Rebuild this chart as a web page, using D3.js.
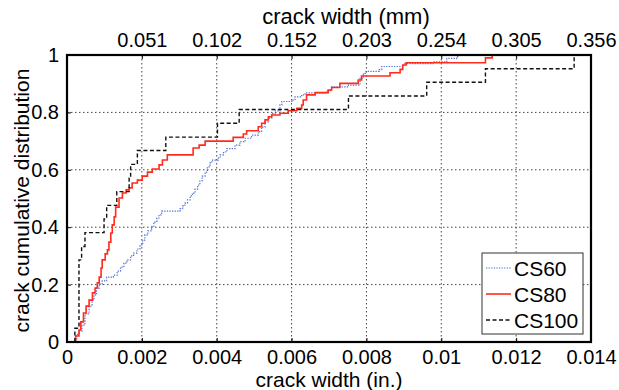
<!DOCTYPE html>
<html>
<head>
<meta charset="utf-8">
<script src="https://cdn.jsdelivr.net/npm/d3@7"></script>
<style>
  html, body { margin: 0; padding: 0; background: #fff; }
  svg { display: block; font-family: "Liberation Sans", Arial, sans-serif; }
</style>
</head>
<body>
<svg id="chart" width="619" height="390"></svg>
<script>
// ---- axis ticks -------------------------------------------------------
const xTicksIn = [0, 0.002, 0.004, 0.006, 0.008, 0.010, 0.012, 0.014];
const xTickLabelsIn = ["0", "0.002", "0.004", "0.006", "0.008", "0.01", "0.012", "0.014"];
const xTicksMm = [0.002, 0.004, 0.006, 0.008, 0.010, 0.012, 0.014];
const xTickLabelsMm = ["0.051", "0.102", "0.152", "0.203", "0.254", "0.305", "0.356"];
const yTicks = [0, 0.2, 0.4, 0.6, 0.8, 1];
const yTickLabels = ["0", "0.2", "0.4", "0.6", "0.8", "1"];

// ---- empirical crack-width distributions (width in inches, cumulative fraction) ----
const seriesNames = ["CS60", "CS80", "CS100"];

const cs60Width = [0.00026, 0.00026, 0.00028, 0.00032, 0.00040, 0.00048, 0.00059, 0.00067, 0.00072, 0.00079,
  0.00086, 0.00094, 0.00106, 0.00124, 0.00134, 0.00143, 0.00152, 0.00160, 0.00170, 0.00178,
  0.00187, 0.00195, 0.00202, 0.00208, 0.00216, 0.00226, 0.00232, 0.00240, 0.00246, 0.00253,
  0.00302, 0.00309, 0.00315, 0.00322, 0.00329, 0.00335, 0.00342, 0.00349, 0.00355, 0.00361,
  0.00369, 0.00375, 0.00382, 0.00387, 0.00404, 0.00409, 0.00418, 0.00427, 0.00449, 0.00462,
  0.00476, 0.00493, 0.00511, 0.00520, 0.00529, 0.00538, 0.00547, 0.00556, 0.00569, 0.00574,
  0.00601, 0.00609, 0.00627, 0.00636, 0.00694, 0.00707, 0.00752, 0.00783, 0.00792, 0.00799,
  0.00834, 0.00841, 0.00900, 0.00978, 0.01015, 0.01041, 0.01046];
const cs60Cdf = [0, 0.021, 0.030, 0.038, 0.059, 0.098, 0.125, 0.146, 0.164, 0.188,
  0.202, 0.213, 0.226, 0.233, 0.247, 0.261, 0.275, 0.286, 0.300, 0.310,
  0.324, 0.338, 0.355, 0.373, 0.387, 0.401, 0.418, 0.432, 0.443, 0.456,
  0.465, 0.474, 0.484, 0.495, 0.509, 0.519, 0.533, 0.547, 0.561, 0.578,
  0.592, 0.610, 0.624, 0.634, 0.641, 0.652, 0.662, 0.674, 0.686, 0.698,
  0.710, 0.721, 0.733, 0.749, 0.767, 0.780, 0.796, 0.805, 0.826, 0.838,
  0.843, 0.854, 0.861, 0.868, 0.876, 0.889, 0.895, 0.919, 0.936, 0.943,
  0.949, 0.960, 0.970, 0.976, 0.988, 0.994, 1.000];

const cs80Width = [0.00023, 0.00023, 0.00032, 0.00037, 0.00044, 0.00051, 0.00059, 0.00068, 0.00075, 0.00081,
  0.00086, 0.00091, 0.00094, 0.00102, 0.00108, 0.00112, 0.00117, 0.00121, 0.00126, 0.00130,
  0.00139, 0.00148, 0.00158, 0.00166, 0.00174, 0.00188, 0.00201, 0.00215, 0.00228, 0.00246,
  0.00255, 0.00268, 0.00337, 0.00353, 0.00369, 0.00444, 0.00471, 0.00480, 0.00511, 0.00520,
  0.00529, 0.00538, 0.00547, 0.00569, 0.00591, 0.00614, 0.00627, 0.00631, 0.00640, 0.00663,
  0.00698, 0.00707, 0.00729, 0.00778, 0.00787, 0.00863, 0.00890, 0.00897, 0.00906, 0.01118,
  0.01136];
const cs80Cdf = [0, 0.021, 0.042, 0.070, 0.101, 0.125, 0.146, 0.171, 0.188, 0.206,
  0.226, 0.258, 0.286, 0.307, 0.321, 0.348, 0.380, 0.408, 0.436, 0.470,
  0.502, 0.519, 0.530, 0.537, 0.554, 0.564, 0.578, 0.592, 0.603, 0.617,
  0.634, 0.652, 0.676, 0.686, 0.700, 0.713, 0.725, 0.736, 0.750, 0.762,
  0.774, 0.785, 0.791, 0.797, 0.806, 0.814, 0.826, 0.843, 0.861, 0.869,
  0.878, 0.887, 0.901, 0.913, 0.927, 0.938, 0.950, 0.965, 0.973, 0.990,
  1.000];

const cs100Width = [0.00021, 0.00021, 0.00032, 0.00039, 0.00048, 0.00099, 0.00106, 0.00133, 0.00166, 0.00170,
  0.00188, 0.00264, 0.00402, 0.00460, 0.00752, 0.00961, 0.01118, 0.01355];
const cs100Cdf = [0, 0.048, 0.286, 0.333, 0.381, 0.429, 0.476, 0.524, 0.571, 0.619,
  0.667, 0.714, 0.762, 0.810, 0.857, 0.905, 0.952, 1.000];

const seriesWidths = [cs60Width, cs80Width, cs100Width];
const seriesCdfs = [cs60Cdf, cs80Cdf, cs100Cdf];

// ---- layout ----------------------------------------------------------
const svg = d3.select("#chart");
const plot = { left: 67, right: 591, top: 55, bottom: 342 };

const x = d3.scaleLinear().domain([0, 0.014]).range([plot.left, plot.right]);
const y = d3.scaleLinear().domain([0, 1]).range([plot.bottom, plot.top]);

const styles = {
  CS60:  { stroke: "#4f6fd6", width: 1.2, dash: "1.3,1.3" },
  CS80:  { stroke: "#ff2b1c", width: 1.6, dash: null },
  CS100: { stroke: "#111111", width: 1.4, dash: "4,2.5" }
};

// grid
const grid = svg.append("g").attr("stroke", "#444").attr("stroke-width", 1)
  .attr("stroke-dasharray", "1.5,2.5");
xTicksIn.filter(t => t > 0 && t < 0.014).forEach(t => {
  grid.append("line").attr("x1", x(t)).attr("x2", x(t))
    .attr("y1", plot.top).attr("y2", plot.bottom);
});
yTicks.filter(t => t > 0 && t < 1).forEach(t => {
  grid.append("line").attr("x1", plot.left).attr("x2", plot.right)
    .attr("y1", y(t)).attr("y2", y(t));
});

// axes (inward ticks, labels from the tick arrays)
const fontSize = 20;
const axBottom = d3.axisBottom(x).tickValues(xTicksIn)
  .tickFormat((d, i) => xTickLabelsIn[i]).tickSizeInner(-4).tickSizeOuter(0).tickPadding(8);
const axTop = d3.axisTop(x).tickValues(xTicksMm)
  .tickFormat((d, i) => xTickLabelsMm[i]).tickSizeInner(-4).tickSizeOuter(0).tickPadding(8);
const axLeft = d3.axisLeft(y).tickValues(yTicks)
  .tickFormat((d, i) => yTickLabels[i]).tickSizeInner(-4).tickSizeOuter(0).tickPadding(8);

function styleAxis(g) {
  g.select(".domain").remove();
  g.selectAll(".tick line").attr("stroke", "#000").attr("stroke-width", 1);
  g.selectAll(".tick text").attr("fill", "#000")
    .style("font-size", fontSize + "px")
    .style("font-family", "'Liberation Sans', Arial, sans-serif");
}
svg.append("g").attr("transform", `translate(0,${plot.bottom})`).call(axBottom).call(styleAxis);
svg.append("g").attr("transform", `translate(0,${plot.top})`).call(axTop).call(styleAxis);
svg.append("g").attr("transform", `translate(${plot.left},0)`).call(axLeft).call(styleAxis);

// series as empirical-CDF stairs
const line = d3.line().curve(d3.curveStepAfter);
seriesNames.forEach((name, k) => {
  const pts = seriesWidths[k].map((w, i) => [x(w), y(seriesCdfs[k][i])]);
  const st = styles[name];
  svg.append("path").attr("d", line(pts))
    .attr("fill", "none").attr("stroke", st.stroke)
    .attr("stroke-width", st.width)
    .attr("stroke-dasharray", st.dash);
});

// frame
svg.append("rect")
  .attr("x", plot.left).attr("y", plot.top)
  .attr("width", plot.right - plot.left).attr("height", plot.bottom - plot.top)
  .attr("fill", "none").attr("stroke", "#000").attr("stroke-width", 2.2);

// titles
const labelSize = 21;
svg.append("text").attr("x", 346).attr("y", 24)
  .attr("text-anchor", "middle").style("font-size", "22px")
  .text("crack width (mm)");
svg.append("text").attr("x", (plot.left + plot.right) / 2).attr("y", 387)
  .attr("text-anchor", "middle").style("font-size", labelSize + "px")
  .text("crack width (in.)");
svg.append("text")
  .attr("transform", `translate(29,${(plot.top + plot.bottom) / 2 + 2}) rotate(-90)`)
  .attr("text-anchor", "middle").style("font-size", labelSize + "px")
  .text("crack cumulative distribution");

// legend
const legend = svg.append("g").attr("transform", "translate(482,253)");
legend.append("rect").attr("width", 101).attr("height", 81)
  .attr("fill", "#fff").attr("stroke", "#333").attr("stroke-width", 1);
seriesNames.forEach((name, k) => {
  const st = styles[name];
  const ly = 15 + k * 26;
  legend.append("line").attr("x1", 4).attr("x2", 29).attr("y1", ly).attr("y2", ly)
    .attr("stroke", st.stroke).attr("stroke-width", st.width)
    .attr("stroke-dasharray", st.dash);
  legend.append("text").attr("x", 32).attr("y", ly + 7.5)
    .style("font-size", labelSize + "px").text(name);
});
</script>
</body>
</html>
